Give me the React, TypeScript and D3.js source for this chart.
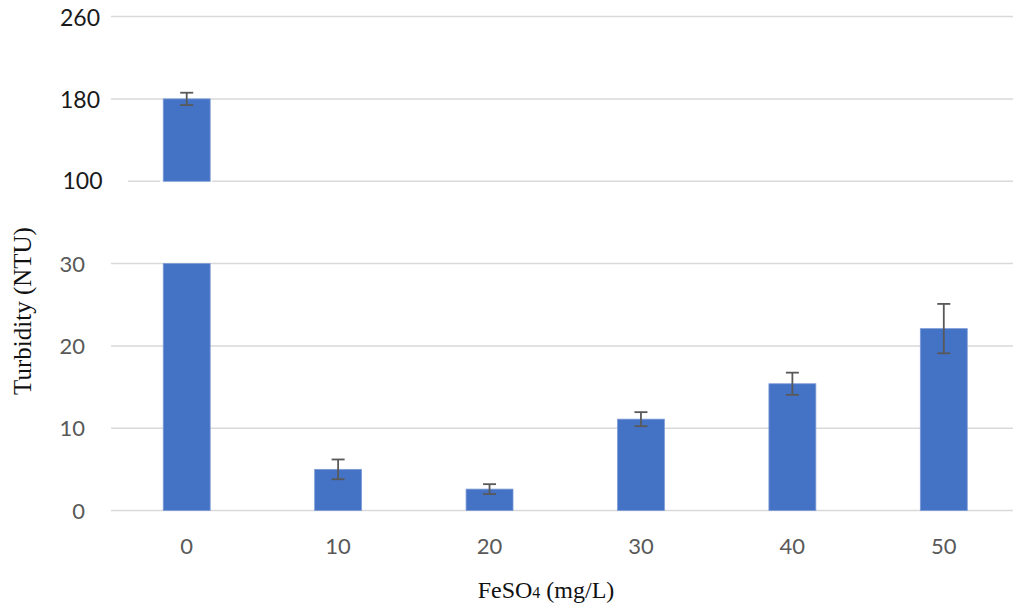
import React from "react";
import * as d3 from "d3";

const categories = ["0", "10", "20", "30", "40", "50"];
const values = [180, 5.0, 2.6, 11.1, 15.4, 22.1];
const errors = [6, 1.2, 0.6, 0.85, 1.35, 3.0];
const lowTicks = [0, 10, 20, 30];
const highTicks = [100, 180, 260];
const breakLow = 30;
const breakHigh = 100;

const W = 1013;
const H = 609;

export default function App() {
  const x = d3.scalePoint<string>().domain(categories).range([111, 1019.5]).padding(0.5);
  const y = d3
    .scaleLinear()
    .domain([0, breakLow, breakHigh, 260])
    .range([510.5, 263.6, 181.3, 16.5]);
  const bw = x.step() * 0.31;
  const grid = "#d9d9d9";
  const barColor = "#4472C4";
  const errColor = "#595959";

  return (
    <svg width={W} height={H} style={{ position: "absolute", left: 0, top: 0, background: "#fff" }}>
      {/* gridlines */}
      {lowTicks.map((t) => (
        <line key={"gl" + t} x1={111} x2={W} y1={y(t)} y2={y(t)} stroke={grid} strokeWidth={1.5} />
      ))}
      {highTicks.map((t) => (
        <line key={"gh" + t} x1={t === breakHigh ? 128 : 111} x2={W} y1={y(t)} y2={y(t)} stroke={grid} strokeWidth={1.5} />
      ))}
      {/* y tick labels */}
      {lowTicks.map((t) => (
        <text key={"tl" + t} x={85} y={y(t) + 8} textAnchor="end" fontFamily="Lato" fontSize={22} fill="#595959">
          {t}
        </text>
      ))}
      {highTicks.map((t) => (
        <text
          key={"th" + t}
          x={t === breakHigh ? 102.5 : 100}
          y={y(t) + (t === breakHigh ? 8 : 9.5)}
          textAnchor="end"
          fontFamily="Lato"
          fontSize={23}
          fill="#1a1a1a"
        >
          {t}
        </text>
      ))}
      {/* bars */}
      {categories.map((c, i) => {
        const cx = x(c)!;
        const v = values[i];
        const e = errors[i];
        const segs: [number, number][] = v > breakHigh ? [[0, breakLow], [breakHigh, v]] : [[0, v]];
        return (
          <g key={"b" + c}>
            {v > breakHigh && (
              <rect x={cx - bw / 2 - 3} y={y(breakHigh) - 1} width={bw + 5} height={3} fill="#fff" />
            )}
            {segs.map(([a, b], k) => (
              <rect
                key={k}
                x={cx - bw / 2}
                y={y(b)}
                width={bw}
                height={y(a) - y(b)}
                fill={barColor}
                stroke="#7d9bd6"
                strokeWidth={0.8}
              />
            ))}
            <g stroke={errColor} strokeWidth={1.8}>
              <line x1={cx} x2={cx} y1={y(v + e)} y2={y(v - e)} />
              <line x1={cx - 6.5} x2={cx + 6.5} y1={y(v + e)} y2={y(v + e)} />
              <line x1={cx - 6.5} x2={cx + 6.5} y1={y(v - e)} y2={y(v - e)} />
            </g>
          </g>
        );
      })}
      {/* x tick labels */}
      {categories.map((c) => (
        <text key={"xl" + c} x={x(c)!} y={554} textAnchor="middle" fontFamily="Lato" fontSize={22} fill="#595959">
          {c}
        </text>
      ))}
      {/* axis titles */}
      <text x={546} y={598} textAnchor="middle" fontFamily="Liberation Serif" fontSize={24} fill="#111">
        FeSO<tspan fontSize={16}>4</tspan> (mg/L)
      </text>
      <text
        transform="translate(31,311) rotate(-90)"
        textAnchor="middle"
        fontFamily="Liberation Serif"
        fontSize={25}
        fill="#111"
      >
        Turbidity (NTU)
      </text>
    </svg>
  );
}
